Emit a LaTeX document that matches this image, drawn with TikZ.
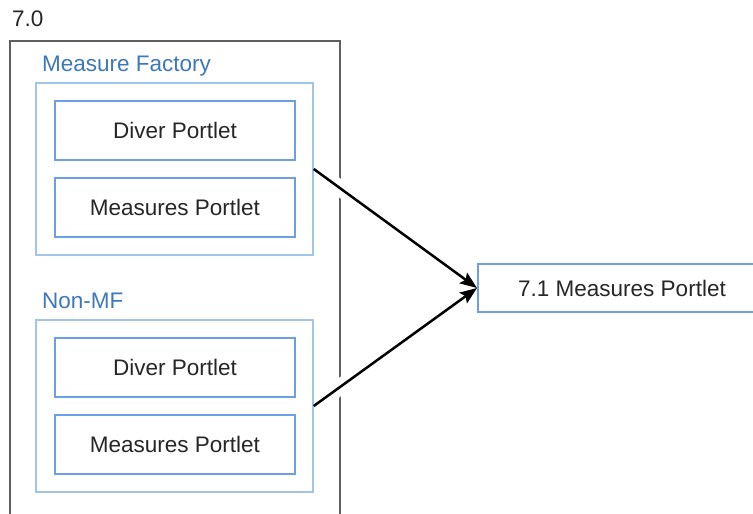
\documentclass[tikz,border=0pt]{standalone}
\usepackage{fontspec}
\setmainfont{Liberation Sans}
\usetikzlibrary{arrows.meta,calc}
\definecolor{outergrey}{HTML}{5F5F5F}
\definecolor{innerblue}{HTML}{6D9EEB}
\definecolor{boxblue}{HTML}{9FC5E8}
\definecolor{labelblue}{HTML}{3D78B8}
\definecolor{txt}{HTML}{262626}
\tikzset{
  x=1pt,y=-1pt,
  every node/.style={font=\fontsize{22.5}{27}\selectfont, text=txt},
  portlet/.style={draw=innerblue, line width=2pt, minimum width=240pt, minimum height=59pt, inner sep=0pt},
  groupbox/.style={draw=boxblue, line width=1.5pt, minimum width=277pt, minimum height=172pt, inner sep=0pt},
  grouplabel/.style={anchor=base west, inner sep=0pt, text=labelblue},
  target/.style={draw=innerblue, line width=2pt, minimum width=288pt, minimum height=48pt, inner sep=0pt},
  conn/.style={line width=2.5pt, draw=black, -{Stealth[length=17pt,width=13pt,inset=3pt]}},
  halo/.style={line width=16pt, draw=white}
}
\begin{document}
\begin{tikzpicture}
\useasboundingbox (0,0) rectangle (753,514);
% outer 7.0 container (open at the bottom)
\coordinate (obl) at (10,530);
\coordinate (otl) at (10,41);
\coordinate (otr) at (340,41);
\coordinate (obr) at (340,530);
\draw[outergrey, line width=2pt] (obl) -- (otl) -- (otr) -- (obr);
\node[grouplabel, text=txt] (lab70) at (12,26) {7.0};

% Measure Factory group
\node[grouplabel] (labmf) at (42,71) {Measure Factory};
\node[groupbox] (mf) at (174.5,169) {};
\node[portlet] (d1) at (175,130) {Diver Portlet};
\node[portlet] (m1) at (175,207.5) {Measures Portlet};

% Non-MF group
\node[grouplabel] (labnm) at (42,308) {Non-MF};
\node[groupbox] (nm) at (174.5,406) {};
\node[portlet] (d2) at (175,367.5) {Diver Portlet};
\node[portlet] (m2) at (175,444) {Measures Portlet};

% target
\node[target] (t) at (622,288) {7.1 Measures Portlet};

% halos where the connectors cross the outer frame
\draw[halo] ($(mf.east)!0.10!(t.west)$) -- ($(mf.east)!0.23!(t.west)$);
\draw[halo] ($(nm.east)!0.10!(t.west)$) -- ($(nm.east)!0.23!(t.west)$);

\draw[conn] (mf.east) -- (t.west);
\draw[conn] (nm.east) -- (t.west);
\end{tikzpicture}
\end{document}
